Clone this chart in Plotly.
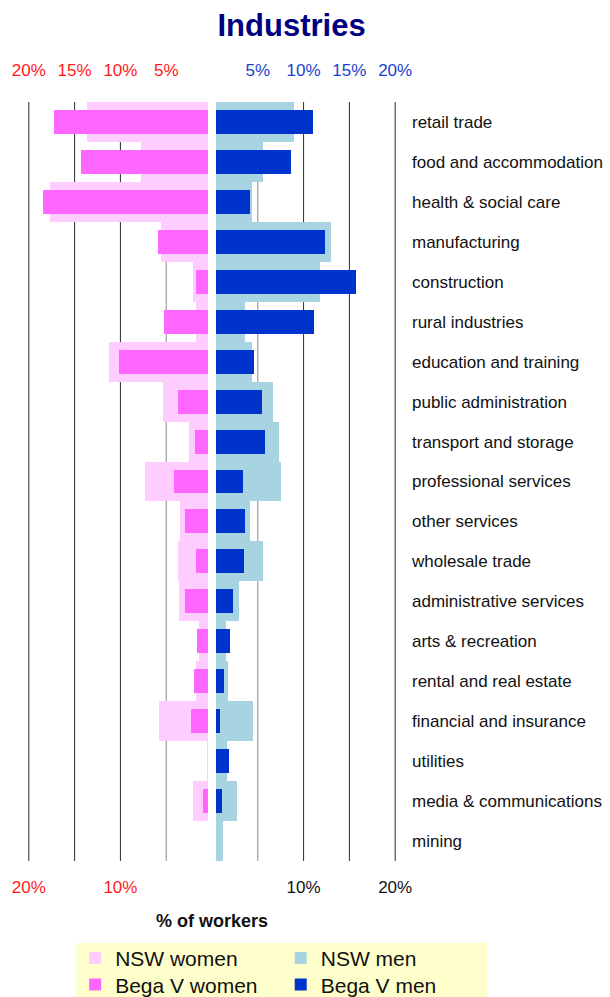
import plotly.graph_objects as go

# Industry categories, top to bottom
categories = [
    "retail trade", "food and accommodation", "health & social care",
    "manufacturing", "construction", "rural industries",
    "education and training", "public administration",
    "transport and storage", "professional services", "other services",
    "wholesale trade", "administrative services", "arts & recreation",
    "rental and real estate", "financial and insurance", "utilities",
    "media & communications", "mining",
]

# Share of workers (%) in each industry
nsw_women = [13.7, 7.7, 17.7, 5.6, 2.1, 1.7, 11.3, 5.3, 2.5, 7.3,
             3.45, 3.7, 3.6, 1.4, 1.8, 5.75, 0.5, 2.1, 0.2]
bega_women = [17.2, 14.3, 18.5, 5.9, 1.8, 5.2, 10.2, 3.7, 1.9, 4.2,
              3.0, 1.8, 2.9, 1.6, 2.0, 2.25, 0.2, 0.95, 0.0]
nsw_men = [9.0, 5.6, 4.4, 13.0, 11.8, 3.65, 4.4, 6.7, 7.3, 7.5,
           4.2, 5.6, 2.9, 1.5, 1.8, 4.5, 1.6, 2.7, 1.25]
bega_men = [11.0, 8.6, 4.2, 12.3, 15.7, 11.1, 4.6, 5.5, 5.8, 3.4,
            3.65, 3.5, 2.3, 2.0, 1.35, 0.9, 1.9, 1.1, 0.3]

# Axis ticks (women plotted to the left as negative values)
top_tick_vals = [-20, -15, -10, -5, 5, 10, 15, 20]
bottom_tick_vals = [-20, -10, 10, 20]
grid_vals = [-20, -15, -10, -5, 5, 10, 15, 20]

FONT = "Liberation Sans, Arial, Helvetica, sans-serif"
C_NSW_W = "#FFCCFF"
C_BEGA_W = "#FF66FF"
C_NSW_M = "#A8D3E0"
C_BEGA_M = "#0033CC"

# plot-area geometry in pixels
W, H = 610, 997
M_L, M_R, M_T, M_B = 26.5, 213.2, 101.5, 136
PW = W - M_L - M_R
PH = H - M_T - M_B


def px_x(px):
    return (px - M_L) / PW


def px_y(py):
    return (H - M_B - py) / PH


def pct(v):
    return f"{abs(v)}%"


def colored(text, color):
    return f'<span style="color:{color}">{text}</span>'


top_tick_text = [colored(pct(v), "#FF1A1A" if v < 0 else "#1A3FD0")
                 for v in top_tick_vals]
bottom_tick_text = [colored(pct(v), "#FF1A1A" if v < 0 else "#111111")
                    for v in bottom_tick_vals]

fig = go.Figure()

fig.add_trace(go.Bar(
    y=categories, x=[-v for v in nsw_women], orientation="h",
    name="NSW women", marker=dict(color=C_NSW_W, line=dict(width=0)),
    width=1.0, legend="legend",
))
fig.add_trace(go.Bar(
    y=categories, x=nsw_men, orientation="h",
    name="NSW men", marker=dict(color=C_NSW_M, line=dict(width=0)),
    width=1.0, legend="legend",
))
fig.add_trace(go.Bar(
    y=categories, x=[-v for v in bega_women], orientation="h",
    name="Bega V women", marker=dict(color=C_BEGA_W, line=dict(width=0)),
    width=0.6, legend="legend2",
))
fig.add_trace(go.Bar(
    y=categories, x=bega_men, orientation="h",
    name="Bega V men", marker=dict(color=C_BEGA_M, line=dict(width=0)),
    width=0.6, legend="legend2",
))
# invisible trace to carry the top axis
fig.add_trace(go.Scatter(
    x=[-20, 20], y=[categories[0], categories[0]], xaxis="x2",
    mode="markers", marker=dict(opacity=0), showlegend=False,
    hoverinfo="skip",
))

shapes = []
for v in grid_vals:
    shapes.append(dict(
        type="line", xref="x", yref="paper", x0=v, x1=v, y0=0, y1=1,
        line=dict(color="#8A8A8A" if abs(v) == 5 else "#2A2A2A", width=1),
        layer="below",
    ))
# white channel separating the two halves
shapes.append(dict(
    type="rect", xref="x", yref="paper", xsizemode="pixel", xanchor=0,
    x0=-4, x1=4, y0=-0.002, y1=1.002, fillcolor="white",
    line=dict(width=0), layer="above",
))
# legend background panel
shapes.append(dict(
    type="rect", xref="paper", yref="paper",
    x0=px_x(76), x1=px_x(487), y0=px_y(1005), y1=px_y(943),
    fillcolor="#FFFFCC", line=dict(width=0), layer="below",
))

x_range = [-20.2, 20.2]

legend_common = dict(
    orientation="h", x=px_x(487), xanchor="right", yanchor="top",
    entrywidth=160.6, entrywidthmode="pixels",
    bgcolor="rgba(0,0,0,0)", borderwidth=0,
    font=dict(family=FONT, size=21, color="#111111"),
    traceorder="normal",
)

fig.update_layout(
    width=W, height=H,
    margin=dict(l=M_L, r=M_R, t=M_T, b=M_B, autoexpand=False),
    paper_bgcolor="white", plot_bgcolor="white",
    font=dict(family=FONT, size=17, color="#111111"),
    barmode="overlay", bargap=0,
    title=dict(
        text="<b>Industries</b>", x=0.478, xref="container", xanchor="center",
        y=1 - 25 / 997, yref="container", yanchor="middle",
        font=dict(family=FONT, size=31, color="#000080"),
    ),
    xaxis=dict(
        range=x_range, showgrid=False, zeroline=False, showline=False,
        tickmode="array", tickvals=bottom_tick_vals, ticktext=bottom_tick_text,
        ticks="", ticklabelstandoff=14, automargin=False,
        tickfont=dict(size=17),
        title=dict(text="<b>% of workers</b>", standoff=18,
                   font=dict(size=18, color="#111111")),
        fixedrange=True,
    ),
    xaxis2=dict(
        range=x_range, overlaying="x", side="top", anchor="y",
        showgrid=False, zeroline=False, showline=False,
        tickmode="array", tickvals=top_tick_vals, ticktext=top_tick_text,
        ticks="", ticklabelstandoff=22, automargin=False,
        tickfont=dict(size=17),
    ),
    yaxis=dict(
        type="category", categoryorder="array", categoryarray=categories,
        range=[len(categories) - 0.5, -0.5], side="right",
        showgrid=False, zeroline=False, showline=False, ticks="",
        ticklabelstandoff=14, automargin=False,
        tickfont=dict(size=17, color="#111111"),
    ),
    legend=dict(legend_common, y=px_y(938)),
    legend2=dict(legend_common, y=px_y(964.5)),
    shapes=shapes,
    showlegend=True,
)

fig.write_html("out.html")
